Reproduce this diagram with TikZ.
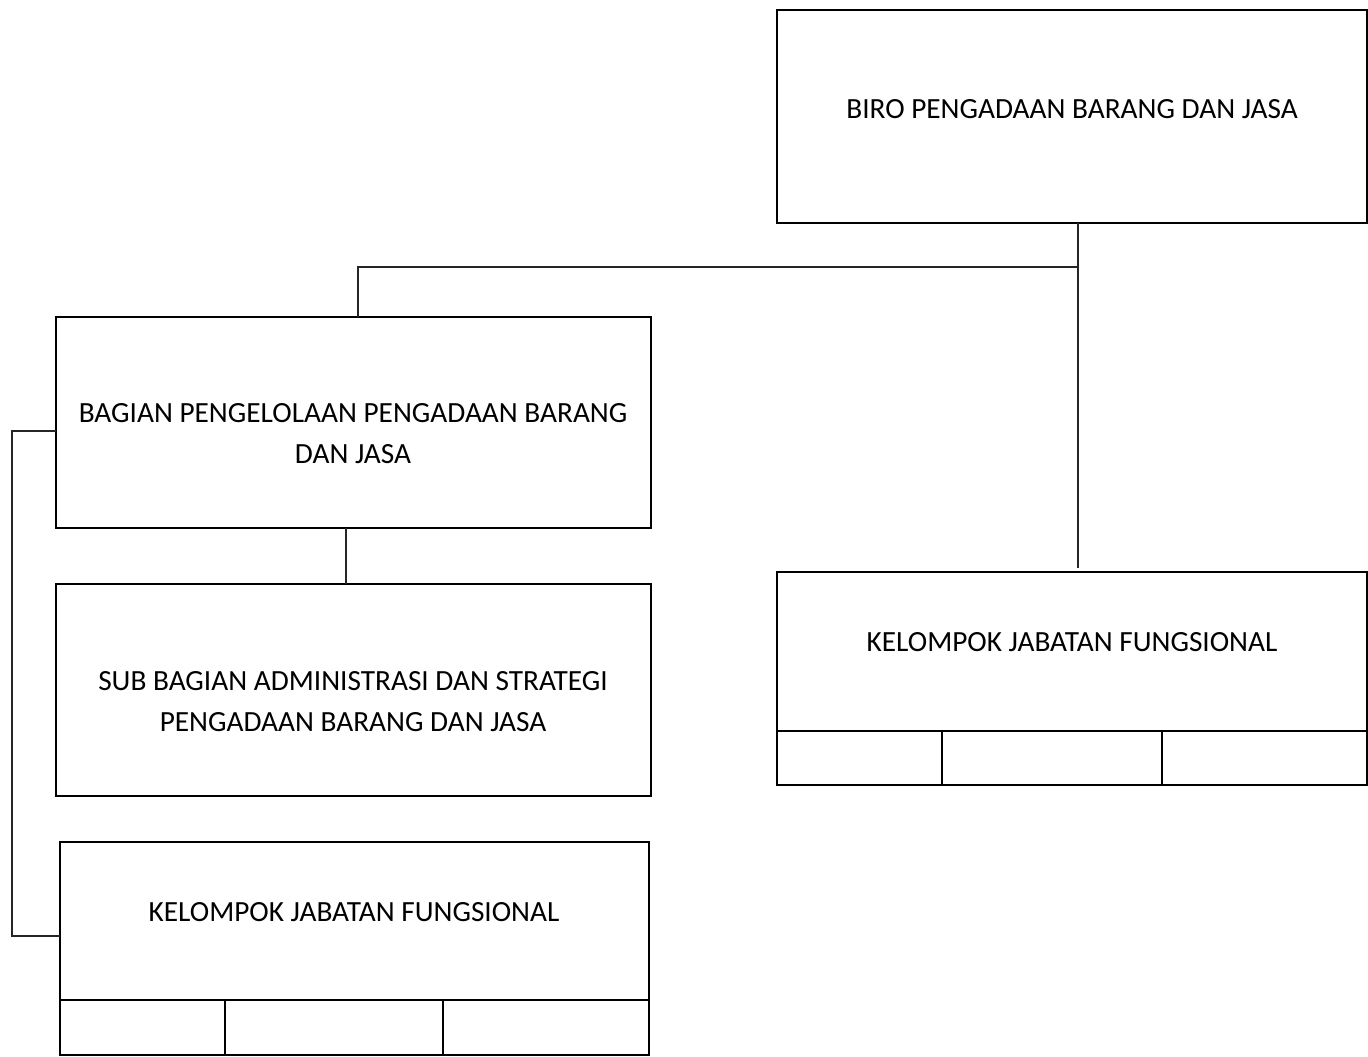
\documentclass[tikz,border=0pt]{standalone}
\usepackage{fontspec}
\setmainfont{Carlito}
\begin{document}
\begin{tikzpicture}[x=1pt,y=-1pt,
  box/.style={draw=black,line width=1.6pt,rectangle},
  conn/.style={draw=black!85,line width=1.1pt},
  lbl/.style={font=\fontsize{29.3}{41}\selectfont,align=center,inner sep=0pt}]
\useasboundingbox (0,0) rectangle (1368,1057);
% boxes
\draw[box] (777,10) rectangle (1367,223);
\coordinate (biro) at (1078,223);
\node[lbl] (birot) at (1072,109) {BIRO PENGADAAN BARANG DAN JASA};

\draw[box] (56,317) rectangle (651,528);
\node[lbl] (bagt) at (353,434) {BAGIAN PENGELOLAAN PENGADAAN BARANG\\DAN JASA};

\draw[box] (56,584) rectangle (651,796);
\node[lbl] (subt) at (353,702) {SUB BAGIAN ADMINISTRASI DAN STRATEGI\\PENGADAAN BARANG DAN JASA};

\draw[box] (60,842) rectangle (649,1055);
\draw[box] (60,1000) -- (649,1000);
\draw[box] (225,1000) -- (225,1055);
\draw[box] (443,1000) -- (443,1055);
\node[lbl] (kjl) at (354,912) {KELOMPOK JABATAN FUNGSIONAL};

\draw[box] (777,572) rectangle (1367,785);
\draw[box] (777,731) -- (1367,731);
\draw[box] (942,731) -- (942,785);
\draw[box] (1162,731) -- (1162,785);
\node[lbl] (kjr) at (1072,642) {KELOMPOK JABATAN FUNGSIONAL};

% connectors
\coordinate (j1) at (1078,267);
\coordinate (kjrtop) at (1078,568);
\draw[conn] (biro) -- (kjrtop);
\draw[conn] (j1) -- (358,267) -- (358,317);
\draw[conn] (346,528) -- (346,584);
\draw[conn] (56,431) -- (12,431) -- (12,936) -- (60,936);
\end{tikzpicture}
\end{document}
